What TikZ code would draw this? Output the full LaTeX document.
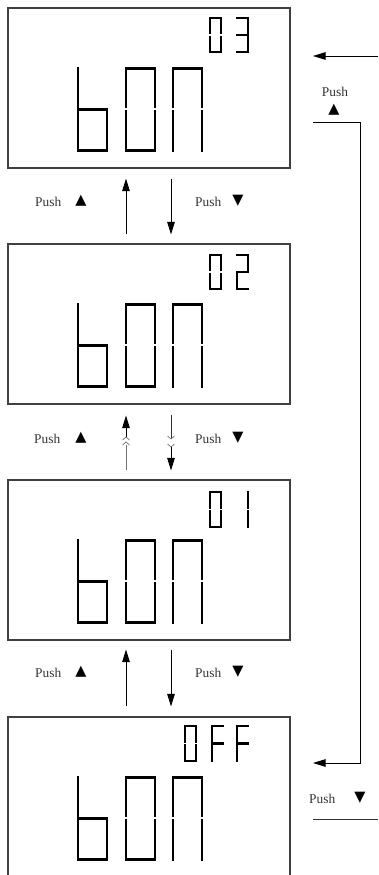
\documentclass[tikz,border=0pt]{standalone}
\usepackage{fontspec}
\setmainfont{Liberation Serif}
\newfontfamily\trifont{DejaVu Sans}
\usetikzlibrary{arrows.meta}
\tikzset{
  lcd/.style={draw=black!75, line width=1.1pt, minimum width=282pt, minimum height=160pt, inner sep=0pt},
  seg/.style={line width=2.5pt, line cap=rect, black},
  arr/.style={line width=0.9pt, -{Triangle[length=12.5pt,width=7.5pt]}},
  plainline/.style={line width=0.9pt, black!80},
  chev/.style={line width=0.7pt, black!55},
  lbl/.style={font=\fontsize{13.4}{14}\selectfont, text=black!80, inner sep=0pt},
  tri/.style={font=\trifont\fontsize{14.5}{15}\selectfont, inner sep=0pt},
}
\def\dG{2.2}
\newcommand\sevseg[5]{\begin{scope}[shift={(#1,#2)}]\def\dW{#3}\def\dH{#4}\foreach \s in {#5}{\csname dseg\s\endcsname}\end{scope}}
\newcommand\dsega{\draw[seg] (0,0) -- (\dW,0);}
\newcommand\dsegb{\draw[seg] (\dW,0) -- (\dW,\dH/2-\dG);}
\newcommand\dsegc{\draw[seg] (\dW,\dH/2+\dG) -- (\dW,\dH);}
\newcommand\dsegd{\draw[seg] (0,\dH) -- (\dW,\dH);}
\newcommand\dsege{\draw[seg] (0,\dH/2+\dG) -- (0,\dH);}
\newcommand\dsegf{\draw[seg] (0,0) -- (0,\dH/2-\dG);}
\newcommand\dsegg{\draw[seg] (0,\dH/2) -- (\dW,\dH/2);}
\newcommand\bigbon[1]{%
  \sevseg{78}{#1+60.3}{29}{82}{f,e,g,c,d}%
  \sevseg{126}{#1+60.3}{29}{82}{a,b,c,d,e,f}%
  \sevseg{173}{#1+60.3}{29}{82}{a,b,c,e,f}}
\begin{document}
\begin{tikzpicture}[x=1pt,y=-1pt]
\useasboundingbox (0,0) rectangle (378,875);
% boxes
\node[lcd] (b1) at (149,88) {};
\node[lcd] (b2) at (149,324) {};
\node[lcd] (b3) at (149,560) {};
\node[lcd] (b4) at (149,797) {};
% big digits
\bigbon{8}
\bigbon{244}
\bigbon{480}
\bigbon{717}
% small digits
\sevseg{210}{18}{11}{34}{a,b,c,d,e,f}
\sevseg{237}{18}{11}{34}{a,b,g,c,d}
\sevseg{210}{255}{11}{34}{a,b,c,d,e,f}
\sevseg{237}{255}{11}{34}{a,b,g,e,d}
\sevseg{210}{492}{11}{35}{a,b,c,d,e,f}
\sevseg{237}{492}{11}{35}{b,c}
\sevseg{185}{726}{11}{35}{a,b,c,d,e,f}
\sevseg{212}{726}{11}{35}{a,f,e,g}
\sevseg{237}{726}{11}{35}{a,f,e,g}
% arrows between box 1 and 2
\draw[arr, shorten <=9pt, shorten >=10pt] ([xshift=-23pt]b2.north) -- ([xshift=-23pt]b1.south);
\draw[arr, shorten <=10pt, shorten >=9pt] ([xshift=22pt]b1.south) -- ([xshift=22pt]b2.north);
\node[lbl, anchor=west] (l1a) at (35,202) {Push};
\node[tri] (t1a) at (81,201) {▲};
\node[lbl, anchor=west] (l1b) at (195,202) {Push};
\node[tri] (t1b) at (238,201) {▼};
% arrows between box 2 and 3 (with chevrons)
\coordinate (u2c) at (126,437);
\coordinate (u2b) at (126,445);
\coordinate (d2c) at (171,439);
\coordinate (d2b) at (171,447);
\draw[arr, shorten >=11pt] (u2c) -- ([xshift=-23pt]b2.south);
\draw[chev, shorten <=9pt] ([xshift=-23pt]b3.north) -- (u2b);
\draw[chev] ([shift={(-3.5,3)}]u2c) -- (u2c) -- ([shift={(3.5,3)}]u2c);
\draw[chev] ([shift={(-3.5,0)}]u2b) -- ([shift={(0,-3)}]u2b) -- ([shift={(3.5,0)}]u2b);
\draw[plainline, shorten <=10pt] ([xshift=22pt]b2.south) -- (d2c);
\draw[chev] ([shift={(-3.5,-3)}]d2c) -- (d2c) -- ([shift={(3.5,-3)}]d2c);
\draw[chev] ([shift={(-3.5,-3)}]d2b) -- (d2b) -- ([shift={(3.5,-3)}]d2b);
\draw[arr, shorten >=9pt] (d2b) -- ([xshift=22pt]b3.north);
\node[lbl, anchor=west] (l2a) at (34,439) {Push};
\node[tri] (t2a) at (81,438) {▲};
\node[lbl, anchor=west] (l2b) at (195,439) {Push};
\node[tri] (t2b) at (238,438) {▼};
% arrows between box 3 and 4
\draw[arr, shorten <=10pt, shorten >=9pt] ([xshift=-23pt]b4.north) -- ([xshift=-23pt]b3.south);
\draw[arr, shorten <=9pt, shorten >=10pt] ([xshift=22pt]b3.south) -- ([xshift=22pt]b4.north);
\node[lbl, anchor=west] (l3a) at (35,673) {Push};
\node[tri] (t3a) at (81,672) {▲};
\node[lbl, anchor=west] (l3b) at (195,673) {Push};
\node[tri] (t3b) at (238,672) {▼};
% right side loop
\coordinate (inR) at (378,56);
\coordinate (inT) at (313,56);
\draw[arr] (inR) -- (inT);
\node[lbl] (lr1) at (335,92) {Push};
\node[tri] (tr1) at (334,110) {▲};
\coordinate (r1) at (313,122);
\coordinate (r2) at (360,122);
\coordinate (r3) at (360,763);
\coordinate (r4) at (313,763);
\draw[arr] (r1) -- (r2) -- (r3) -- (r4);
\node[lbl, anchor=west] (lr2) at (309,799) {Push};
\node[tri] (tr2) at (360,798) {▼};
\coordinate (s1) at (313,819);
\coordinate (s2) at (378,819);
\draw[plainline] (s1) -- (s2);
\end{tikzpicture}
\end{document}
